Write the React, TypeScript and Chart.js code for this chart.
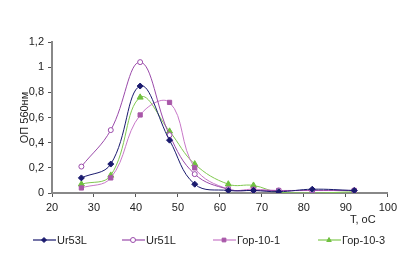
import React, { useEffect, useRef } from "react";
import { Chart, registerables } from "chart.js";

Chart.register(...registerables);

const temperatures = [27, 34, 41, 48, 54, 62, 68, 74, 82, 92];
const ur53L = [0.12, 0.23, 0.85, 0.42, 0.07, 0.02, 0.02, 0.01, 0.03, 0.02];
const ur51L = [0.21, 0.5, 1.04, 0.46, 0.15, 0.03, 0.02, 0.02, 0.02, 0.02];
const gor101 = [0.04, 0.12, 0.62, 0.72, 0.2, 0.03, 0.03, 0.02, 0.02, 0.02];
const gor103 = [0.07, 0.14, 0.76, 0.49, 0.23, 0.07, 0.06, 0.005, 0.0, 0.01];
const seriesNames = ["Ur53L", "Ur51L", "Гор-10-1", "Гор-10-3"];
const yTitle = "ОП 560нм";
const xTitle = "T, oC";

const FONT = "'Liberation Sans', Arial, sans-serif";

function drawMarker(ctx: CanvasRenderingContext2D, style: string, x: number, y: number, r: number, fill: string, stroke: string) {
  ctx.fillStyle = fill;
  ctx.strokeStyle = stroke;
  ctx.lineWidth = 1;
  ctx.beginPath();
  if (style === "rectRot") {
    ctx.moveTo(x, y - r);
    ctx.lineTo(x + r, y);
    ctx.lineTo(x, y + r);
    ctx.lineTo(x - r, y);
    ctx.closePath();
  } else if (style === "circle") {
    ctx.arc(x, y, r, 0, Math.PI * 2);
  } else if (style === "rect") {
    const s = r * 0.75;
    ctx.rect(x - s, y - s, 2 * s, 2 * s);
  } else {
    ctx.moveTo(x, y - r);
    ctx.lineTo(x + r * 0.9, y + r * 0.6);
    ctx.lineTo(x - r * 0.9, y + r * 0.6);
    ctx.closePath();
  }
  ctx.fill();
  ctx.stroke();
}

const legendPlugin = {
  id: "customLegend",
  afterDraw(chart: any) {
    const ctx = chart.ctx;
    const xs = [33, 122, 213, 318];
    const y = 240;
    ctx.save();
    chart.data.datasets.forEach((ds: any, i: number) => {
      const x0 = xs[i];
      ctx.strokeStyle = ds.borderColor;
      ctx.lineWidth = 1.2;
      ctx.beginPath();
      ctx.moveTo(x0, y);
      ctx.lineTo(x0 + 23, y);
      ctx.stroke();
      drawMarker(ctx, ds.pointStyle, x0 + 11, y, 2.5, ds.pointBackgroundColor, ds.pointBorderColor);
      ctx.fillStyle = "#222";
      ctx.font = `11px ${FONT}`;
      ctx.textBaseline = "middle";
      ctx.textAlign = "left";
      ctx.fillText(ds.label, x0 + 24, y + 0.5);
    });
    ctx.fillStyle = "#222";
    ctx.font = `11px ${FONT}`;
    ctx.textAlign = "left";
    ctx.textBaseline = "middle";
    ctx.fillText(xTitle, 350, 220);
    ctx.restore();
  },
};

export default function App() {
  const ref = useRef<HTMLCanvasElement>(null);
  useEffect(() => {
    document.body.style.margin = "0";
    const canvas = ref.current!;
    const mk = (
      label: string,
      data: number[],
      line: string,
      fill: string,
      border: string,
      style: string,
      radius: number
    ) => ({
      label,
      data: temperatures.map((t, i) => ({ x: t, y: data[i] })),
      borderColor: line,
      borderWidth: 1,
      pointBackgroundColor: fill,
      pointBorderColor: border,
      pointBorderWidth: 1,
      pointStyle: style,
      pointRadius: radius,
      tension: 0.4,
      fill: false,
    });
    const chart = new Chart(canvas, {
      type: "line",
      data: {
        datasets: [
          mk(seriesNames[0], ur53L, "#1a1a6e", "#1a1a6e", "#1a1a6e", "rectRot", 3),
          mk(seriesNames[1], ur51L, "#9a4aaa", "#ffffff", "#9a4aaa", "circle", 2.5),
          mk(seriesNames[2], gor101, "#c878c8", "#a858a8", "#a858a8", "rect", 3),
          mk(seriesNames[3], gor103, "#80c850", "#70c040", "#70c040", "triangle", 3.5),
        ] as any,
      },
      options: {
        animation: false,
        responsive: false,
        layout: { padding: { top: 42, right: 13, left: 0, bottom: 0 } },
        plugins: {
          legend: { display: false },
          tooltip: { enabled: false },
        },
        scales: {
          x: {
            type: "linear",
            min: 20,
            max: 100,
            ticks: {
              stepSize: 10,
              color: "#222",
              font: { family: FONT, size: 11 },
              padding: 4,
              maxRotation: 0,
            },
            grid: {
              display: true,
              drawOnChartArea: false,
              drawTicks: true,
              tickLength: 4,
              color: "#555",
            },
            border: { display: true, color: "#888", width: 2 },
            afterFit: (s: any) => {
              s.height = 60;
            },
          },
          y: {
            min: 0,
            max: 1.2,
            ticks: {
              stepSize: 0.2,
              color: "#222",
              font: { family: FONT, size: 11 },
              padding: 4,
              callback: (v: any) => String(Math.round(Number(v) * 10) / 10).replace(".", ","),
            },
            grid: {
              display: true,
              drawOnChartArea: false,
              drawTicks: true,
              tickLength: 4,
              color: "#555",
            },
            border: { display: true, color: "#888", width: 2 },
            title: {
              display: true,
              text: yTitle,
              color: "#222",
              font: { family: FONT, size: 11 },
              padding: { top: 18, bottom: 0 },
            },
            afterFit: (s: any) => {
              s.width = 52;
            },
          },
        },
      },
      plugins: [legendPlugin],
    });
    return () => chart.destroy();
  }, []);
  return <canvas ref={ref} width={401} height={253} style={{ display: "block" }} />;
}
